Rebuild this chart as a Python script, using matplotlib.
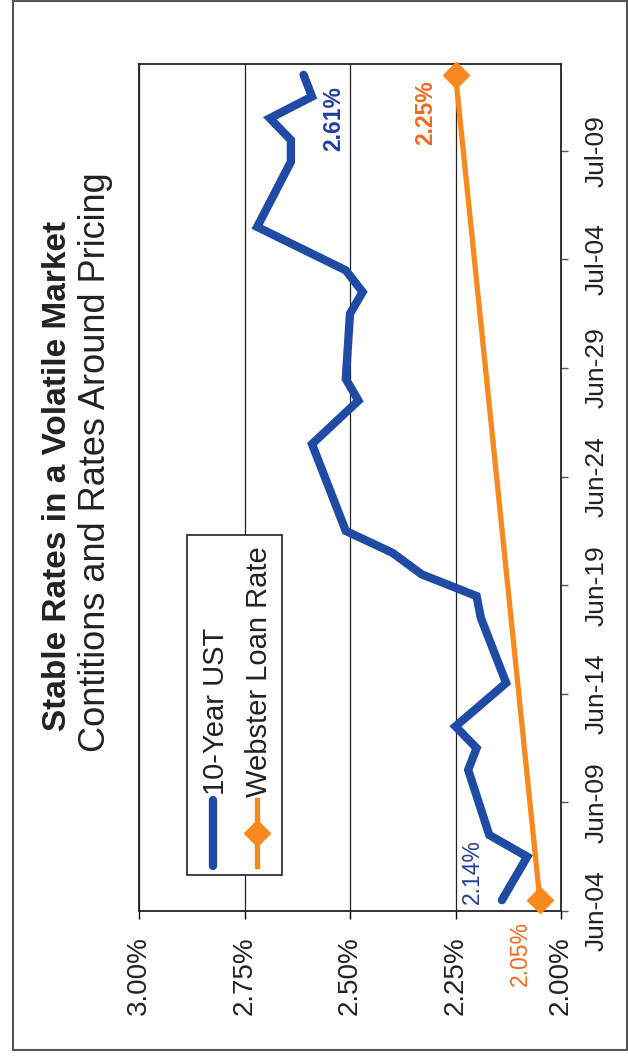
import matplotlib
matplotlib.use("Agg")
import matplotlib.pyplot as plt
import matplotlib.dates as mdates
from matplotlib.patches import Rectangle
from matplotlib.lines import Line2D
import pandas as pd

plt.rcParams["font.family"] = ["Liberation Sans", "DejaVu Sans"]

# 10-year Treasury yield (%) by trading day
ust_dates = ["2013-06-04", "2013-06-06", "2013-06-07", "2013-06-10", "2013-06-11",
             "2013-06-12", "2013-06-14", "2013-06-17", "2013-06-18", "2013-06-19",
             "2013-06-20", "2013-06-21", "2013-06-24", "2013-06-25", "2013-06-27",
             "2013-06-28", "2013-07-01", "2013-07-02", "2013-07-03", "2013-07-05",
             "2013-07-08", "2013-07-09", "2013-07-10", "2013-07-11", "2013-07-12"]
ust_rates = [2.14, 2.08, 2.17, 2.22, 2.20,
             2.25, 2.13, 2.19, 2.20, 2.33,
             2.40, 2.51, 2.57, 2.59, 2.48,
             2.51, 2.50, 2.47, 2.51, 2.72,
             2.64, 2.64, 2.69, 2.59, 2.61]

# Webster loan rate (%) at the start and end of the pricing window
loan_dates = ["2013-06-04", "2013-07-12"]
loan_rates = [2.05, 2.25]

rate_ticks = [2.00, 2.25, 2.50, 2.75, 3.00]
date_tick_start, date_tick_end = "2013-06-04", "2013-07-09"
axis_start, axis_end = "2013-06-04", "2013-07-13"

series_names = ["10-Year UST", "Webster Loan Rate"]
title = "Stable Rates in a Volatile Market"
subtitle = "Contitions and Rates Around Pricing"

BLUE = "#1F4BA5"
BLUE_TXT = "#22409C"
ORANGE = "#F7891F"
ORANGE_TXT = "#F2691D"

W, H = 628, 1057
fig = plt.figure(figsize=(W / 100, H / 100), dpi=100)
fig.patch.set_facecolor("white")


def fx(px):
    return px / W


def fy(py):
    return 1 - py / H


# Chart is laid out sideways: rates run along the horizontal axis (high on the left),
# dates run bottom-to-top on the right-hand axis.
ax = fig.add_axes([fx(139), fy(911), (561 - 139) / W, (911 - 64) / H])

half_day = pd.Timedelta(hours=12)
ust_y = pd.to_datetime(ust_dates) + half_day
loan_y = pd.to_datetime(loan_dates) + half_day

ax.plot(ust_rates, ust_y, color=BLUE, lw=6.0, solid_joinstyle="miter",
        solid_capstyle="round", zorder=3)
ax.plot(loan_rates, loan_y, color=ORANGE, lw=3.8, marker="D", ms=13,
        mfc=ORANGE, mec=ORANGE, clip_on=False, zorder=4)

ax.set_xlim(3.0, 2.0)
ax.set_ylim(pd.Timestamp(axis_start), pd.Timestamp(axis_end))

ax.set_xticks(rate_ticks)
ax.set_xticklabels([f"{v:.2f}%" for v in rate_ticks], rotation=90, fontsize=20,
                   color="#222222")
ax.tick_params(axis="x", direction="out", length=6, width=1, pad=12)

ax.yaxis.tick_right()
ax.set_yticks(pd.date_range(date_tick_start, date_tick_end, freq="5D"))
ax.yaxis.set_major_formatter(mdates.DateFormatter("%b-%d"))
ax.tick_params(axis="y", direction="out", length=5, width=1, pad=12,
               labelsize=19, labelcolor="#222222", color="#555555")
for lab in ax.get_yticklabels():
    lab.set_rotation(90)
    lab.set_va("center")

ax.grid(axis="x", color="#222222", lw=0.9)
ax.set_axisbelow(True)
for sp in ax.spines.values():
    sp.set_color("#222222")
    sp.set_linewidth(1.3)

# Value labels at the ends of each series
ax.annotate(f"{ust_rates[0]:.2f}%", xy=(ust_rates[0], ust_y[0]), xytext=(-30, 29),
            textcoords="offset pixels", rotation=90, ha="center", va="center",
            fontsize=16.5, color=BLUE_TXT)
ax.annotate(f"{ust_rates[-1]:.2f}%", xy=(ust_rates[-1], ust_y[-1]), xytext=(30, -44),
            textcoords="offset pixels", rotation=90, ha="center", va="center",
            fontsize=16.5, fontweight="bold", color=BLUE_TXT)
ax.annotate(f"{loan_rates[0]:.2f}%", xy=(loan_rates[0], loan_y[0]), xytext=(-20, -53),
            textcoords="offset pixels", rotation=90, ha="center", va="center",
            fontsize=16.5, color=ORANGE_TXT, annotation_clip=False)
ax.annotate(f"{loan_rates[-1]:.2f}%", xy=(loan_rates[-1], loan_y[-1]), xytext=(-30, -38),
            textcoords="offset pixels", rotation=90, ha="center", va="center",
            fontsize=16.5, fontweight="bold", color=ORANGE_TXT)

# Overlay in pixel coordinates for titles, legend and the outer frame
ov = fig.add_axes([0, 0, 1, 1], zorder=5)
ov.set_xlim(0, W)
ov.set_ylim(H, 0)
ov.axis("off")
ov.patch.set_alpha(0)

ov.add_patch(Rectangle((13, 1), 614, 1049, fill=False, ec="#555555", lw=1.5))

ov.text(58, 476, title, rotation=90, ha="center", va="center", fontsize=24,
        fontweight="bold", color="#222222")
ov.text(96, 462, subtitle, rotation=90, ha="center", va="center", fontsize=26,
        color="#222222")

# Legend box drawn sideways to follow the chart orientation
ov.add_patch(Rectangle((187, 535), 95, 340, fc="white", ec="#222222", lw=1.2, zorder=6))
ov.add_line(Line2D([213, 213], [800, 866], color=BLUE, lw=6.0, solid_capstyle="round",
                   zorder=7))
ov.add_line(Line2D([257, 257], [800, 866], color=ORANGE, lw=3.8, zorder=7))
ov.add_line(Line2D([257], [833], color=ORANGE, marker="D", ms=13, lw=0, zorder=7))
ov.text(216, 795, series_names[0], rotation=90, rotation_mode="anchor", ha="left",
        va="center", fontsize=21, color="#222222", zorder=8)
ov.text(259, 797, series_names[1], rotation=90, rotation_mode="anchor", ha="left",
        va="center", fontsize=21, color="#222222", zorder=8)

fig.savefig("out.png", dpi=100, facecolor="white")
